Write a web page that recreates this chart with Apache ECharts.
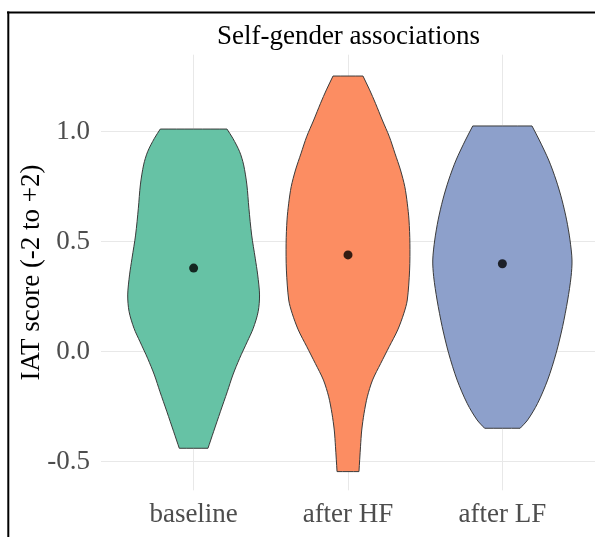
<!DOCTYPE html>
<html>
<head>
<meta charset="utf-8">
<script src="https://cdn.jsdelivr.net/npm/echarts@6/dist/echarts.min.js"></script>
<style>
  html, body { margin: 0; padding: 0; background: #ffffff; }
  #chart { width: 595px; height: 537px; }
</style>
</head>
<body>
<div id="chart"></div>
<script>
// Groups along the x axis and the mean score marked inside each violin
const categories = ['baseline', 'after HF', 'after LF'];
const groupMeans = [0.38, 0.44, 0.40];

// Violin outlines: IAT score levels (top to bottom) and the half-width of the
// density at each level, in category units
const baselineLevels = [1.012, 0.970, 0.909, 0.849, 0.758, 0.652, 0.530, 0.425, 0.349, 0.258, 0.182, 0.106, 0.045, -0.030, -0.106, -0.182, -0.273, -0.364, -0.439];
const baselineHalfWidths = [0.216, 0.254, 0.298, 0.324, 0.345, 0.358, 0.376, 0.399, 0.415, 0.427, 0.418, 0.386, 0.347, 0.298, 0.254, 0.218, 0.173, 0.129, 0.093];

const afterHFLevels = [1.253, 1.190, 1.129, 1.053, 0.977, 0.902, 0.826, 0.750, 0.675, 0.599, 0.493, 0.371, 0.235, 0.175, 0.099, 0.023, -0.053, -0.129, -0.205, -0.280, -0.356, -0.432, -0.545];
const afterHFHalfWidths = [0.097, 0.140, 0.178, 0.222, 0.268, 0.304, 0.340, 0.368, 0.384, 0.395, 0.401, 0.399, 0.384, 0.362, 0.322, 0.267, 0.212, 0.159, 0.125, 0.104, 0.089, 0.081, 0.071];

const afterLFLevels = [1.026, 0.962, 0.871, 0.780, 0.690, 0.599, 0.508, 0.417, 0.341, 0.235, 0.114, -0.007, -0.129, -0.235, -0.310, -0.348];
const afterLFHalfWidths = [0.192, 0.239, 0.300, 0.348, 0.386, 0.416, 0.438, 0.451, 0.445, 0.423, 0.390, 0.348, 0.293, 0.228, 0.164, 0.115];

// Y axis tick values and their printed labels
const yTickValues = [-0.5, 0.0, 0.5, 1.0];
const yTickLabels = ['-0.5', '0.0', '0.5', '1.0'];

const chartTitle = 'Self-gender associations';
const yAxisTitle = 'IAT score (-2 to +2)';

const profiles = [
  { levels: baselineLevels, halfWidths: baselineHalfWidths },
  { levels: afterHFLevels, halfWidths: afterHFHalfWidths },
  { levels: afterLFLevels, halfWidths: afterLFHalfWidths }
];

const palette = ['#66C2A5', '#FC8D62', '#8DA0CB'];
const serif = '"Liberation Serif", "Times New Roman", serif';
const gridColor = '#e8e8e8';
const clear = 'rgba(0,0,0,0)';

function nearly(a, b) { return Math.abs(a - b) < 1e-6; }

// split lines only at the labelled ticks (fine tick steps keep min a multiple of the interval)
const xLineColors = [clear, clear, clear, gridColor, clear];
const yLineColors = [];
for (let i = 0; i < 50; i++) yLineColors.push(i === 13 ? gridColor : clear);

const chart = echarts.init(document.getElementById('chart'), null, { renderer: 'canvas' });

chart.setOption({
  animation: false,
  backgroundColor: '#ffffff',
  grid: { left: 101, right: 0, top: 54.7, bottom: 46.7, outerBoundsMode: 'none' },
  xAxis: {
    type: 'value',
    min: 0.4,
    max: 3.6,
    interval: 0.2,
    axisLine: { show: false },
    axisTick: { show: false },
    axisLabel: {
      margin: 11,
      fontFamily: serif,
      fontSize: 27,
      color: '#4d4d4d',
      formatter: function (v) {
        const r = Math.round(v);
        return (nearly(v, r) && r >= 1 && r <= categories.length) ? categories[r - 1] : '';
      }
    },
    splitLine: { show: true, lineStyle: { color: xLineColors, width: 1 } }
  },
  yAxis: {
    type: 'value',
    min: -0.63,
    max: 1.35,
    interval: 0.01,
    name: yAxisTitle,
    nameLocation: 'middle',
    nameRotate: 90,
    nameGap: 56,
    nameMoveOverlap: false,
    nameTextStyle: { fontFamily: serif, fontSize: 27, color: '#000000' },
    axisLine: { show: false },
    axisTick: { show: false },
    axisLabel: {
      margin: 11,
      fontFamily: serif,
      fontSize: 27,
      color: '#4d4d4d',
      formatter: function (v) {
        for (let i = 0; i < yTickValues.length; i++) {
          if (nearly(v, yTickValues[i])) return yTickLabels[i];
        }
        return '';
      }
    },
    splitLine: { show: true, lineStyle: { color: yLineColors, width: 1 } }
  },
  series: [
    {
      type: 'custom',
      z: 2,
      data: categories.map(function (c, i) { return [i + 1]; }),
      renderItem: function (params, api) {
        const p = profiles[params.dataIndex];
        const x = api.value(0);
        const n = p.levels.length;
        const pts = [];
        // right side, top to bottom; the flat ends repeat their corner so they stay sharp
        for (let i = 0; i < n; i++) {
          const pt = api.coord([x + p.halfWidths[i], p.levels[i]]);
          if (i === 0 || i === n - 1) pts.push(pt.slice());
          pts.push(pt);
        }
        // left side, bottom to top
        for (let i = n - 1; i >= 0; i--) {
          const pt = api.coord([x - p.halfWidths[i], p.levels[i]]);
          if (i === 0 || i === n - 1) pts.push(pt.slice());
          pts.push(pt);
        }
        return {
          type: 'polygon',
          shape: { points: pts, smooth: 0.3 },
          style: { fill: palette[params.dataIndex], stroke: '#3a3a3a', lineWidth: 1 }
        };
      }
    },
    {
      type: 'scatter',
      z: 3,
      symbol: 'circle',
      symbolSize: 9,
      itemStyle: { color: '#000000' },
      data: groupMeans.map(function (m, i) { return [i + 1, m]; })
    }
  ],
  graphic: [
    {
      type: 'text',
      x: 348.5,
      y: 37,
      style: {
        text: chartTitle,
        fontFamily: serif,
        fontSize: 27,
        fill: '#000000',
        textAlign: 'center',
        textVerticalAlign: 'middle'
      }
    },
    { type: 'line', shape: { x1: 7, y1: 12.5, x2: 595, y2: 12.5 }, style: { stroke: '#000000', lineWidth: 2 } },
    { type: 'line', shape: { x1: 8.3, y1: 11.5, x2: 8.3, y2: 537 }, style: { stroke: '#000000', lineWidth: 2 } }
  ]
});
</script>
</body>
</html>
